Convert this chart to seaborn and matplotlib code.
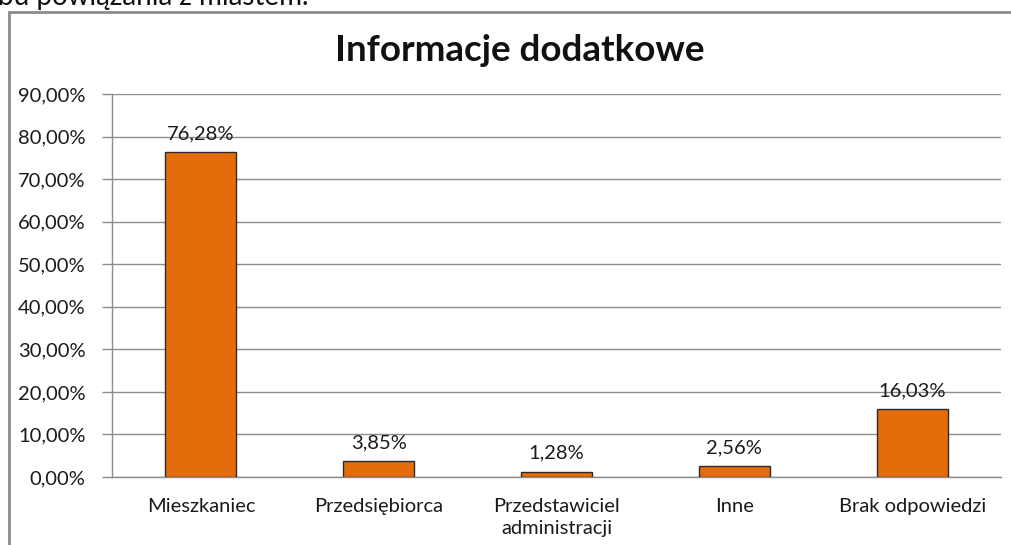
import matplotlib
matplotlib.use("Agg")
import matplotlib.pyplot as plt
import seaborn as sns
import pandas as pd
from matplotlib.patches import Rectangle
from matplotlib.ticker import FuncFormatter

categories = ["Mieszkaniec", "Przedsiębiorca", "Przedstawiciel\nadministracji",
              "Inne", "Brak odpowiedzi"]
values = [76.28, 3.85, 1.28, 2.56, 16.03]
y_ticks = [0, 10, 20, 30, 40, 50, 60, 70, 80, 90]

df = pd.DataFrame({"kategoria": categories, "procent": values})

sns.set_style("white")
plt.rcParams["font.family"] = ["Lato", "DejaVu Sans"]


def pl_pct(v, _=None):
    return f"{v:.2f}%".replace(".", ",")


fig = plt.figure(figsize=(10.11, 5.45), dpi=100)
ax = fig.add_axes([0.1108, 0.1248, 0.8794, 0.7027])

sns.barplot(data=df, x="kategoria", y="procent", color="#E46C0A",
            saturation=1, width=0.4, edgecolor="#2b2b2b", linewidth=1,
            ax=ax, zorder=3)

ax.set_ylim(0, 90)
ax.set_xlim(-0.5, len(categories) - 0.5)
ax.set_yticks(y_ticks)
ax.yaxis.set_major_formatter(FuncFormatter(pl_pct))
ax.grid(axis="y", color="#8c8c8c", linewidth=1, zorder=0)
ax.set_xlabel("")
ax.set_ylabel("")

# separators between categories on x axis (Excel style)
ax.set_xticks([i + 0.5 for i in range(-1, len(categories))], minor=True)
ax.tick_params(axis="x", which="minor", length=7, color="#8c8c8c", width=1)
ax.tick_params(axis="x", which="major", length=0, pad=15, labelsize=14.5,
               labelcolor="#1a1a1a")
ax.tick_params(axis="y", length=7, color="#8c8c8c", width=1, labelsize=14.5,
               left=True, pad=12, labelcolor="#1a1a1a")
for lbl in ax.get_xticklabels():
    lbl.set_linespacing(1.35)

for side in ["top", "right"]:
    ax.spines[side].set_visible(False)
for side in ["left", "bottom"]:
    ax.spines[side].set_color("#8c8c8c")
    ax.spines[side].set_linewidth(1)

for c in ax.containers:
    ax.bar_label(c, labels=[pl_pct(v) for v in values], padding=7,
                 fontsize=14.5, color="#1a1a1a")

fig.text(0.514, 0.908, "Informacje dodatkowe", ha="center", va="center",
         fontsize=26.5, fontweight="bold", color="#111111")

# chart frame
fig.patches.append(Rectangle((9 / 1011, -0.05), 1.2, 1.05 - 12 / 545,
                             transform=fig.transFigure, fill=False,
                             edgecolor="#8c8c8c", linewidth=2))
# clipped caption above the chart (only its lower part is visible)
fig.text(-0.002, 1 - 5 / 545, "bu powiązania z miastem.", ha="left",
         va="baseline", fontsize=20, color="#111111")

fig.savefig("out.png", dpi=100)
